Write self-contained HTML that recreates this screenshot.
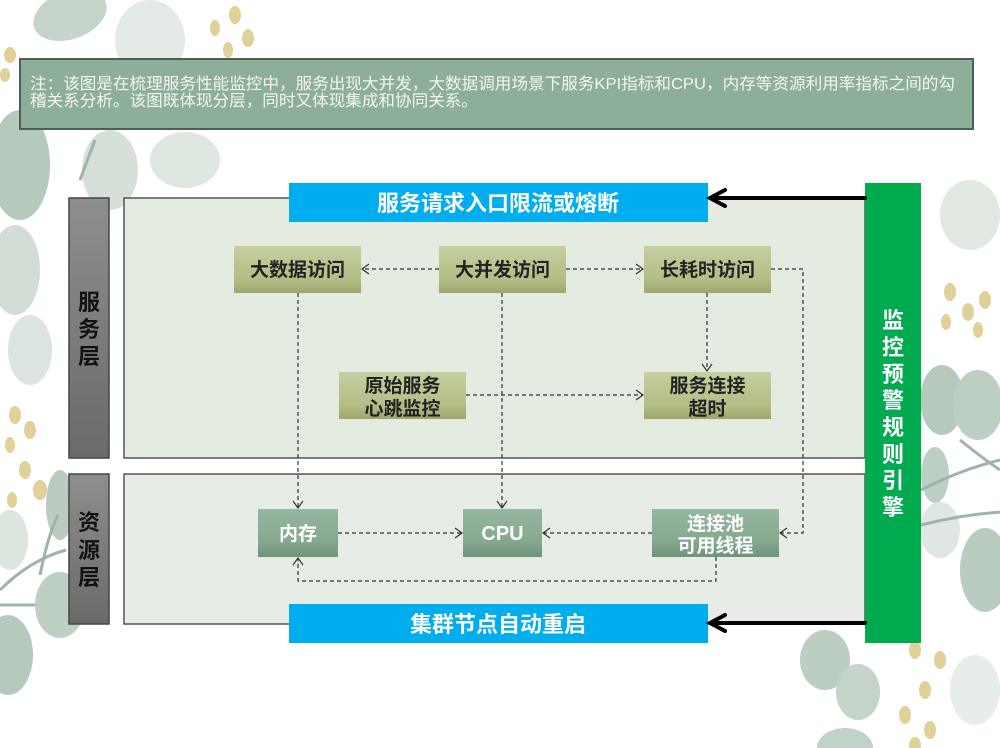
<!DOCTYPE html>
<html><head><meta charset="utf-8"><style>
html,body{margin:0;padding:0;background:#fff;}
svg{display:block;}
text{font-family:"Liberation Sans","Noto Sans CJK SC",sans-serif;}
</style></head><body>
<svg width="1000" height="748" viewBox="0 0 1000 748" xmlns="http://www.w3.org/2000/svg">
<defs>
<linearGradient id="gs" x1="0" y1="0" x2="0" y2="1">
<stop offset="0" stop-color="#c6cf9f"/><stop offset="0.7" stop-color="#b4bd86"/><stop offset="1" stop-color="#9da76b"/>
</linearGradient>
<linearGradient id="gr" x1="0" y1="0" x2="0" y2="1">
<stop offset="0" stop-color="#96b7a0"/><stop offset="0.7" stop-color="#84a88e"/><stop offset="1" stop-color="#6d947a"/>
</linearGradient>
<linearGradient id="gl" x1="0" y1="0" x2="0" y2="1">
<stop offset="0" stop-color="#8e8e8e"/><stop offset="1" stop-color="#6a6a6a"/>
</linearGradient>
</defs>

<!-- background decoration -->
<g opacity="0.75">
<g fill="#b3c7b9">
<ellipse cx="70" cy="15" rx="38" ry="24" transform="rotate(-20 70 15)"/>
<ellipse cx="20" cy="165" rx="30" ry="55" fill="#9db7a7"/>
<ellipse cx="110" cy="170" rx="28" ry="40" fill="#c9d6cc"/>
<ellipse cx="185" cy="160" rx="35" ry="28" fill="#d5dfd8"/>
<ellipse cx="150" cy="40" rx="35" ry="40" fill="#dbe4de"/>
<ellipse cx="15" cy="270" rx="25" ry="45" fill="#c3d3c8"/>
<ellipse cx="30" cy="350" rx="22" ry="35" fill="#d0dcd3"/>
<ellipse cx="60" cy="505" rx="14" ry="35" fill="#a3bcab"/>
<ellipse cx="10" cy="540" rx="18" ry="30" fill="#d2ddd5"/>
<ellipse cx="60" cy="605" rx="25" ry="33" fill="#a9c0b0"/>
<ellipse cx="8" cy="655" rx="25" ry="40" fill="#9eb8a7"/>
<ellipse cx="970" cy="215" rx="30" ry="35" fill="#d8e1da"/>
<ellipse cx="942" cy="400" rx="22" ry="35" fill="#9fb8a8"/>
<ellipse cx="978" cy="405" rx="25" ry="35" fill="#a8c0b0"/>
<ellipse cx="935" cy="475" rx="14" ry="28" fill="#a7bfae"/>
<ellipse cx="985" cy="570" rx="25" ry="42" fill="#a4bcab"/>
<ellipse cx="940" cy="530" rx="20" ry="28" fill="#d6e0d9"/>
<ellipse cx="825" cy="660" rx="25" ry="30" fill="#a6bdad"/>
<ellipse cx="858" cy="692" rx="22" ry="28" fill="#b2c6b8"/>
<ellipse cx="845" cy="748" rx="28" ry="20" fill="#adc3b4"/>
<ellipse cx="975" cy="690" rx="25" ry="35" fill="#dfe7e1"/>
</g>
<g fill="none" stroke="#7f9c8b" stroke-width="3">
<path d="M0 590 Q30 560 66 550"/>
<path d="M0 605 L35 605"/>
<path d="M40 575 Q48 535 58 515"/>
<path d="M960 440 Q985 460 1000 470"/>
<path d="M921 525 Q960 515 1000 512"/>
<path d="M921 490 Q960 470 1000 460"/>
<path d="M80 180 L95 140"/>
</g>
<g fill="#d6c277">
<ellipse cx="235" cy="15" rx="6" ry="9"/><ellipse cx="215" cy="28" rx="5" ry="8"/>
<ellipse cx="248" cy="38" rx="6" ry="9"/><ellipse cx="228" cy="50" rx="5" ry="8"/>
<ellipse cx="10" cy="55" rx="6" ry="8"/><ellipse cx="5" cy="75" rx="5" ry="7"/>
<ellipse cx="15" cy="415" rx="6" ry="9"/><ellipse cx="30" cy="430" rx="6" ry="9"/>
<ellipse cx="10" cy="445" rx="5" ry="8"/><ellipse cx="25" cy="470" rx="6" ry="9"/>
<ellipse cx="40" cy="490" rx="7" ry="10"/><ellipse cx="12" cy="500" rx="5" ry="8"/>
<ellipse cx="950" cy="292" rx="6" ry="9"/><ellipse cx="968" cy="312" rx="6" ry="9"/>
<ellipse cx="946" cy="322" rx="5" ry="8"/><ellipse cx="985" cy="300" rx="6" ry="9"/>
<ellipse cx="978" cy="330" rx="5" ry="8"/>
<ellipse cx="915" cy="650" rx="6" ry="9"/><ellipse cx="940" cy="660" rx="6" ry="9"/>
<ellipse cx="925" cy="690" rx="6" ry="9"/><ellipse cx="905" cy="715" rx="6" ry="9"/>
<ellipse cx="930" cy="730" rx="6" ry="9"/><ellipse cx="915" cy="745" rx="6" ry="8"/>
</g>
</g>

<!-- note box -->
<rect x="20" y="59" width="953" height="70" fill="#8dae98" stroke="#4e5e52" stroke-width="2"/>
<text x="30" y="89" font-size="16" fill="#f4f7f2" textLength="925" lengthAdjust="spacingAndGlyphs">注：该图是在梳理服务性能监控中，服务出现大并发，大数据调用场景下服务KPI指标和CPU，内存等资源利用率指标之间的勾</text>
<text x="30" y="106" font-size="16" fill="#f4f7f2" textLength="448" lengthAdjust="spacingAndGlyphs">稽关系分析。该图既体现分层，同时又体现集成和协同关系。</text>

<!-- layer labels -->
<rect x="69" y="198" width="40" height="260" fill="url(#gl)" stroke="#444" stroke-width="1.5"/>
<g font-size="22" font-weight="700" fill="#111" text-anchor="middle">
<text x="89" y="310">服</text><text x="89" y="337">务</text><text x="89" y="364">层</text>
</g>
<rect x="69" y="474" width="40" height="150" fill="url(#gl)" stroke="#444" stroke-width="1.5"/>
<g font-size="22" font-weight="700" fill="#111" text-anchor="middle">
<text x="89" y="530">资</text><text x="89" y="558">源</text><text x="89" y="585">层</text>
</g>

<!-- panels -->
<rect x="124" y="198" width="741" height="260" fill="#e4ece2" stroke="#555" stroke-width="1.5"/>
<rect x="124" y="474" width="741" height="150" fill="#e7ece6" stroke="#555" stroke-width="1.5"/>

<!-- blue boxes -->
<rect x="289" y="183" width="419" height="39" fill="#00aeef"/>
<text x="498" y="211" font-size="22" font-weight="700" fill="#fff" text-anchor="middle">服务请求入口限流或熔断</text>
<rect x="289" y="604" width="419" height="39" fill="#00aeef"/>
<text x="498" y="632" font-size="22" font-weight="700" fill="#fff" text-anchor="middle">集群节点自动重启</text>

<!-- green engine -->
<rect x="865" y="183" width="56" height="460" fill="#00aa4f"/>
<g font-size="22" font-weight="700" fill="#fff" text-anchor="middle">
<text x="893" y="328">监</text><text x="893" y="355">控</text><text x="893" y="382">预</text>
<text x="893" y="408">警</text><text x="893" y="435">规</text><text x="893" y="462">则</text>
<text x="893" y="488">引</text><text x="893" y="515">擎</text>
</g>

<!-- thick arrows -->
<g stroke="#000" stroke-width="4" fill="none" stroke-linecap="round">
<line x1="865" y1="198" x2="712" y2="198"/>
<polyline points="725,190 710,198 725,206"/>
<line x1="865" y1="623" x2="712" y2="623"/>
<polyline points="725,615 710,623 725,631"/>
</g>

<!-- dashed connectors -->
<g stroke="#333" stroke-width="1.2" fill="none" stroke-dasharray="4,3">
<line x1="439" y1="269" x2="362" y2="269"/>
<line x1="566" y1="269" x2="643" y2="269"/>
<line x1="707" y1="293" x2="707" y2="371"/>
<line x1="466" y1="395" x2="643" y2="395"/>
<line x1="298" y1="293" x2="298" y2="508"/>
<line x1="502" y1="293" x2="502" y2="508"/>
<polyline points="771,269 803,269 803,533 780,533"/>
<line x1="338" y1="533" x2="462" y2="533"/>
<line x1="652" y1="533" x2="543" y2="533"/>
<polyline points="716,557 716,581 298,581 298,558"/>
</g>
<g stroke="#333" stroke-width="1.2" fill="none">
<polyline points="369,264 362,269 369,274"/>
<polyline points="636,264 643,269 636,274"/>
<polyline points="702,364 707,371 712,364"/>
<polyline points="636,390 643,395 636,400"/>
<polyline points="293,501 298,508 303,501"/>
<polyline points="497,501 502,508 507,501"/>
<polyline points="787,528 780,533 787,538"/>
<polyline points="455,528 462,533 455,538"/>
<polyline points="550,528 543,533 550,538"/>
<polyline points="293,565 298,558 303,565"/>
</g>

<!-- service nodes -->
<rect x="234" y="246" width="127" height="47" fill="url(#gs)"/>
<rect x="439" y="246" width="127" height="47" fill="url(#gs)"/>
<rect x="644" y="246" width="127" height="47" fill="url(#gs)"/>
<rect x="339" y="372" width="127" height="47" fill="url(#gs)"/>
<rect x="644" y="372" width="127" height="47" fill="url(#gs)"/>
<g font-size="19" font-weight="700" fill="#222" text-anchor="middle">
<text x="297.5" y="276">大数据访问</text>
<text x="502.5" y="276">大并发访问</text>
<text x="707.5" y="276">长耗时访问</text>
<text x="402.5" y="392">原始服务</text>
<text x="402.5" y="415">心跳监控</text>
<text x="707.5" y="392">服务连接</text>
<text x="707.5" y="415">超时</text>
</g>

<!-- resource nodes -->
<rect x="258" y="509" width="80" height="48" fill="url(#gr)"/>
<rect x="463" y="509" width="79" height="48" fill="url(#gr)"/>
<rect x="652" y="509" width="127" height="48" fill="url(#gr)"/>
<g font-size="19" font-weight="700" fill="#fff" text-anchor="middle">
<text x="298" y="540">内存</text>
<text x="502.5" y="540" font-size="20">CPU</text>
<text x="715.5" y="530">连接池</text>
<text x="715.5" y="552">可用线程</text>
</g>
</svg>
</body></html>
